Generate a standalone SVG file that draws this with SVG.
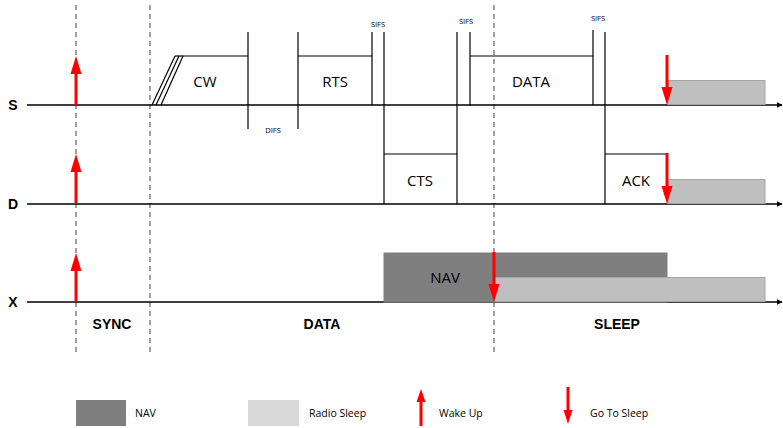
<svg xmlns="http://www.w3.org/2000/svg" width="783" height="428" viewBox="0 0 783 428">
<style>
.ln{stroke:#000;stroke-width:1.2;fill:none}
.ax{stroke:#000;stroke-width:1.3;fill:none}
.dash{stroke:#404040;stroke-width:1;stroke-dasharray:5,4;fill:none}
.box{fill:#fff;stroke:#000;stroke-width:1.2}
.nav{fill:#7f7f7f;stroke:#7f7f7f;stroke-width:1}
.slp{fill:#bfbfbf;stroke:#a6a6a6;stroke-width:1}
.lbl{font-family:"Open Sans","Liberation Sans",sans-serif;font-size:15px;fill:#000;text-anchor:middle}
.sm{font-family:"Open Sans","Liberation Sans",sans-serif;font-size:7.5px;fill:#000;text-anchor:middle}
.bold{font-family:"Liberation Sans",Arial,sans-serif;font-size:14px;font-weight:bold;fill:#000;text-anchor:middle}
.leg{font-family:"Open Sans","Liberation Sans",sans-serif;font-size:10.5px;fill:#000}
.red{stroke:#ff0000;stroke-width:3;fill:none}
</style>
<defs>
<marker id="ah" viewBox="0 0 10 10" refX="9" refY="5" markerWidth="6" markerHeight="6" orient="auto" markerUnits="userSpaceOnUse"><path d="M0,0 L10,5 L0,10 z" fill="#000"/></marker>
</defs>

<g id="dashes">
<line class="dash" x1="76" y1="5" x2="76" y2="352"/>
<line class="dash" x1="150" y1="5" x2="150" y2="352"/>
<line class="dash" x1="494" y1="5" x2="494" y2="352"/>
</g>

<g id="lanes">
<line class="ax" x1="27" y1="105" x2="782" y2="105" marker-end="url(#ah)"/>
<line class="ax" x1="27" y1="204" x2="782" y2="204" marker-end="url(#ah)"/>
<line class="ax" x1="27" y1="302" x2="782" y2="302" marker-end="url(#ah)"/>
<text class="bold" x="13" y="110">S</text>
<text class="bold" x="13" y="209">D</text>
<text class="bold" x="13" y="307">X</text>
</g>

<g id="cw">
<polyline class="ln" points="161,105 183,56 248,56"/>
<line class="ln" x1="152" y1="105" x2="175" y2="56"/>
<line class="ln" x1="156" y1="105" x2="179" y2="56"/>
<line class="ln" x1="175" y1="56" x2="183" y2="56"/>
<line class="ln" x1="248" y1="32" x2="248" y2="129"/>
<text class="lbl" x="205" y="87">CW</text>
</g>

<g id="difs">
<text class="sm" x="273" y="133">DIFS</text>
</g>

<g id="rts">
<line class="ln" x1="298" y1="32" x2="298" y2="129"/>
<polyline class="ln" points="298,56 372,56 372,105"/>
<line class="ln" x1="372" y1="32" x2="372" y2="56"/>
<text class="lbl" x="335" y="87">RTS</text>
<text class="sm" x="378" y="27">SIFS</text>
</g>

<g id="cts">
<line class="ln" x1="384" y1="32" x2="384" y2="204"/>
<polyline class="ln" points="384,154 457,154 457,204"/>
<line class="ln" x1="457" y1="32" x2="457" y2="154"/>
<text class="lbl" x="420" y="186">CTS</text>
<text class="sm" x="466" y="24">SIFS</text>
</g>

<g id="data">
<line class="ln" x1="470" y1="32" x2="470" y2="106"/>
<polyline class="ln" points="470,56 593,56"/>
<line class="ln" x1="593" y1="30" x2="593" y2="105"/>
<text class="lbl" x="531" y="87">DATA</text>
<text class="sm" x="598" y="21">SIFS</text>
</g>

<g id="ack">
<line class="ln" x1="605" y1="32" x2="605" y2="204"/>
<polyline class="ln" points="605,154 667,154"/>
<text class="lbl" x="636" y="186">ACK</text>
</g>

<g id="sleep-s">
<rect class="slp" x="668" y="80.5" width="97" height="24"/>
</g>
<g id="sleep-d">
<rect class="slp" x="668" y="179.5" width="97" height="24"/>
</g>
<g id="nav">
<rect class="nav" x="384" y="253" width="283" height="49"/>
<rect class="slp" x="495" y="277.5" width="270" height="24"/>
<text class="lbl" x="445" y="283">NAV</text>
</g>

<g id="arrows">
<line class="red" x1="76" y1="105" x2="76" y2="72"/>
<path d="M70.5,74 L76,56 L81.5,74 z" fill="#ff0000"/>
<line class="red" x1="76" y1="204" x2="76" y2="170"/>
<path d="M70.5,172 L76,154 L81.5,172 z" fill="#ff0000"/>
<line class="red" x1="76" y1="302" x2="76" y2="269"/>
<path d="M70.5,271 L76,253 L81.5,271 z" fill="#ff0000"/>
<line class="red" x1="667" y1="55" x2="667" y2="89"/>
<path d="M661.5,87 L667,105 L672.5,87 z" fill="#ff0000"/>
<line class="red" x1="667" y1="153" x2="667" y2="188"/>
<path d="M661.5,186 L667,204 L672.5,186 z" fill="#ff0000"/>
<line class="red" x1="494" y1="252" x2="494" y2="286"/>
<path d="M488.5,284 L494,302 L499.5,284 z" fill="#ff0000"/>
</g>

<g id="phases">
<text class="bold" x="112" y="329">SYNC</text>
<text class="bold" x="322" y="329">DATA</text>
<text class="bold" x="617" y="329">SLEEP</text>
</g>

<g id="legend">
<rect x="76" y="400" width="50" height="26" fill="#7f7f7f"/>
<text class="leg" x="135" y="417">NAV</text>
<rect x="248" y="400" width="51" height="26" fill="#d9d9d9"/>
<text class="leg" x="309" y="417">Radio Sleep</text>
<line class="red" x1="421" y1="426" x2="421" y2="400"/>
<path d="M416.5,402 L421,389 L425.5,402 z" fill="#ff0000"/>
<text class="leg" x="439" y="417">Wake Up</text>
<line class="red" x1="568" y1="387" x2="568" y2="412"/>
<path d="M563.5,410 L568,424 L572.5,410 z" fill="#ff0000"/>
<text class="leg" x="590" y="417">Go To Sleep</text>
</g>
</svg>
